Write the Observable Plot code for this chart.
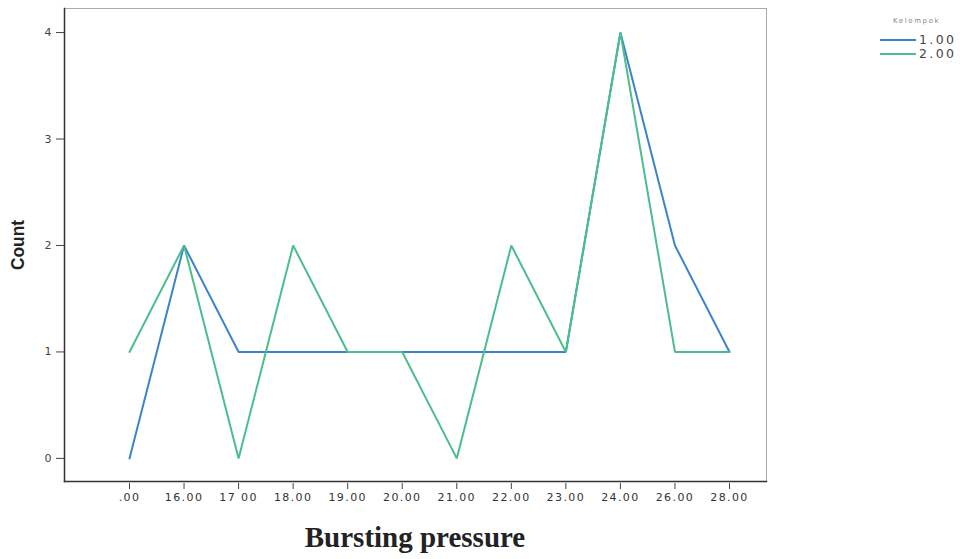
<!DOCTYPE html>
<html>
<head>
<meta charset="utf-8">
<script src="https://cdn.jsdelivr.net/npm/d3@7"></script>
<script src="https://cdn.jsdelivr.net/npm/@observablehq/plot@0.6"></script>
<style>
  html, body { margin: 0; padding: 0; background: #fff; }
  #wrap { position: relative; width: 967px; height: 559px; overflow: hidden; }
  #legend { position: absolute; left: 880px; top: 17px; font-family: "DejaVu Sans", Arial, sans-serif; color: #444; }
  #legend .ttl { font-size: 7px; color: #888; margin-left: 13px; margin-bottom: 8px; letter-spacing: 1.6px; }
  #legend .row { display: flex; align-items: center; font-size: 12.5px; line-height: 14px; letter-spacing: 2.4px; }
  #legend .sw { width: 36px; height: 1.5px; margin-right: 3px; }
  #xtitle { position: absolute; left: 0; top: 521px; width: 830px; text-align: center; font-family: "Liberation Serif", "Times New Roman", serif; font-weight: bold; font-size: 29px; color: #222; }
  g[aria-label="x-axis tick label"] text { letter-spacing: 1.4px; }
</style>
</head>
<body>
<div id="wrap">
  <div id="chart"></div>
  <div id="legend"></div>
  <div id="xtitle">Bursting pressure</div>
</div>
<script>
const categories = [".00", "16.00", "17.00", "18.00", "19.00", "20.00", "21.00", "22.00", "23.00", "24.00", "26.00", "28.00"];
const tickLabels = [".00", "16.00", "17 00", "18.00", "19.00", "20.00", "21.00", "22.00", "23.00", "24.00", "26.00", "28.00"];
const series = ["1.00", "2.00"];
const group1 = [0, 2, 1, 1, 1, 1, 1, 1, 1, 4, 2, 1];
const group2 = [1, 2, 0, 2, 1, 1, 0, 2, 1, 4, 1, 1];
const colors = ["#3b84cc", "#4cbd8c"];
const yTicks = [0, 1, 2, 3, 4];

const data = [];
categories.forEach((c, i) => data.push({cat: c, count: group1[i], grp: series[0]}));
categories.forEach((c, i) => data.push({cat: c, count: group2[i], grp: series[1]}));

const labelMap = new Map(categories.map((c, i) => [c, tickLabels[i]]));

const chart = Plot.plot({
  width: 967,
  height: 520,
  marginLeft: 64,
  marginRight: 201,
  marginTop: 8,
  marginBottom: 39,
  style: {background: "transparent", fontFamily: "DejaVu Sans, Liberation Sans, Arial, sans-serif"},
  x: {type: "point", domain: categories, range: [129, 729], padding: 0, round: false, label: null},
  y: {domain: [-0.217, 4.226], label: null},
  color: {domain: series, range: colors},
  marks: [
    Plot.frame({stroke: "#aaa", strokeWidth: 1}),
    Plot.frame({anchor: "left", stroke: "#333", strokeWidth: 1.5}),
    Plot.frame({anchor: "bottom", stroke: "#333", strokeWidth: 1.5}),
    Plot.axisX({ticks: categories, tickFormat: d => labelMap.get(d), tickSize: 6, tickPadding: 4, fontSize: 11, stroke: "#444", fill: "#333", dy: 2}),
    Plot.axisY({ticks: yTicks, tickFormat: d3.format("d"), tickSize: 8, tickPadding: 5, fontSize: 11, stroke: "#444", fill: "#444"}),
    Plot.line(data, {x: "cat", y: "count", z: "grp", stroke: "grp", strokeWidth: 2, strokeLinejoin: "miter"}),
    Plot.text(["Count"], {frameAnchor: "left", textAnchor: "middle", dx: -46, dy: 0, rotate: -90, fontSize: 18, fontWeight: "bold", fill: "#222", fontFamily: "Liberation Sans, Arial, sans-serif"})
  ]
});
document.getElementById("chart").appendChild(chart);

// condense the y-axis title like the narrow font of the reference
d3.select(chart).selectAll("text").filter(function() { return this.textContent === "Count"; })
  .attr("textLength", 50).attr("lengthAdjust", "spacingAndGlyphs");

const lg = document.getElementById("legend");
const t = document.createElement("div");
t.className = "ttl"; t.textContent = "Kelompok"; lg.appendChild(t);
series.forEach((s, i) => {
  const r = document.createElement("div"); r.className = "row";
  const sw = document.createElement("div"); sw.className = "sw"; sw.style.background = colors[i];
  const tx = document.createElement("span"); tx.textContent = s;
  r.appendChild(sw); r.appendChild(tx); lg.appendChild(r);
});
</script>
</body>
</html>
